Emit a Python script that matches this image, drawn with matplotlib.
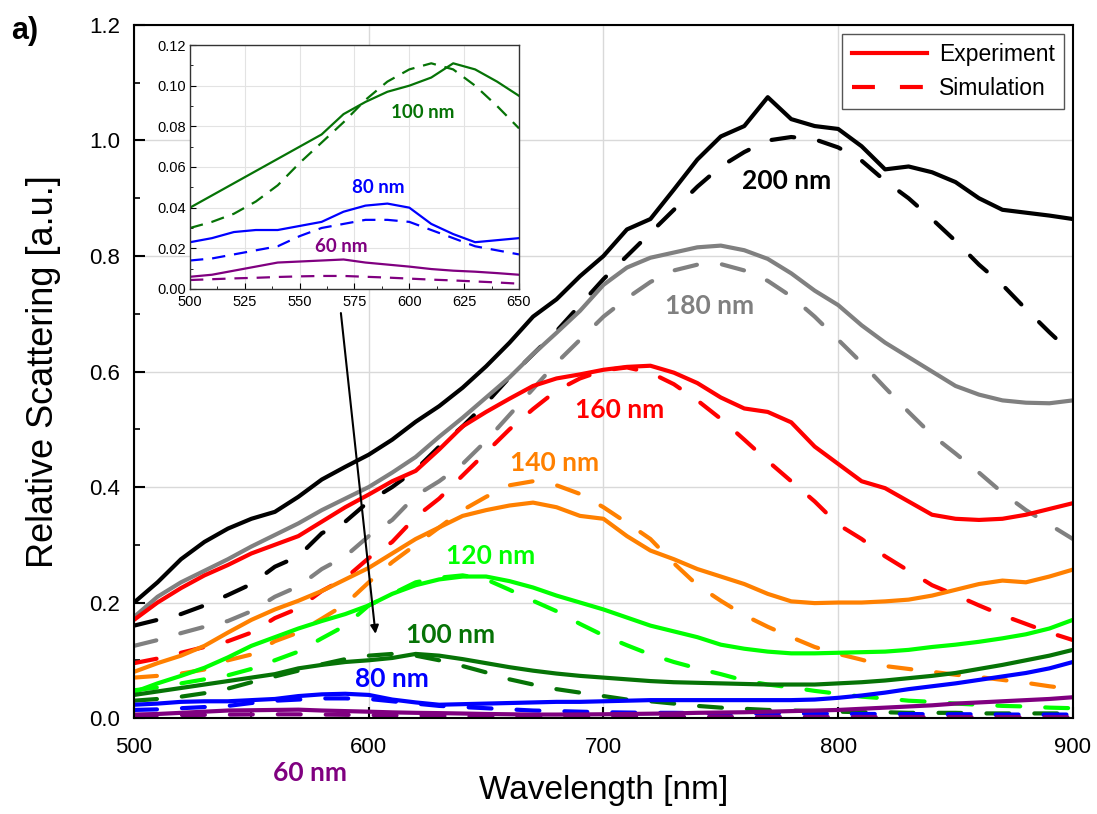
import numpy as np
import matplotlib.pyplot as plt
from matplotlib.ticker import MultipleLocator

# wavelength grid (nm)
wl = np.arange(500, 901, 10)

# experiment
exp_200 = [0.20, 0.235, 0.275, 0.305, 0.328, 0.345, 0.357, 0.383, 0.413, 0.435, 0.456, 0.482, 0.513, 0.54, 0.572,
           0.609, 0.65, 0.695, 0.725, 0.765, 0.80, 0.846, 0.864, 0.915, 0.967, 1.007, 1.025, 1.075, 1.037, 1.025,
           1.02, 0.99, 0.95, 0.955, 0.945, 0.928, 0.90, 0.88, 0.875, 0.87, 0.864]
exp_180 = [0.175, 0.21, 0.235, 0.255, 0.275, 0.297, 0.317, 0.337, 0.36, 0.38, 0.40, 0.425, 0.452, 0.487, 0.52,
           0.555, 0.59, 0.63, 0.667, 0.705, 0.75, 0.78, 0.797, 0.806, 0.815, 0.818, 0.81, 0.795, 0.77, 0.74,
           0.715, 0.68, 0.65, 0.625, 0.60, 0.575, 0.56, 0.55, 0.546, 0.545, 0.55]
exp_160 = [0.17, 0.20, 0.225, 0.247, 0.265, 0.285, 0.30, 0.315, 0.34, 0.365, 0.387, 0.41, 0.428, 0.465, 0.505,
           0.53, 0.553, 0.575, 0.588, 0.595, 0.603, 0.608, 0.61, 0.598, 0.58, 0.555, 0.536, 0.53, 0.512, 0.47,
           0.44, 0.41, 0.398, 0.375, 0.352, 0.345, 0.343, 0.345, 0.352, 0.362, 0.372]
exp_140 = [0.08, 0.095, 0.108, 0.125, 0.148, 0.17, 0.188, 0.203, 0.22, 0.24, 0.26, 0.285, 0.31, 0.33, 0.35,
           0.36, 0.368, 0.373, 0.365, 0.35, 0.345, 0.315, 0.29, 0.275, 0.258, 0.245, 0.232, 0.215, 0.202, 0.199,
           0.20, 0.20, 0.202, 0.205, 0.212, 0.222, 0.232, 0.238, 0.235, 0.245, 0.257]
exp_120 = [0.045, 0.06, 0.073, 0.087, 0.105, 0.125, 0.14, 0.155, 0.168, 0.18, 0.195, 0.215, 0.23, 0.24, 0.245,
           0.245, 0.237, 0.226, 0.212, 0.20, 0.188, 0.174, 0.16, 0.15, 0.14, 0.127, 0.12, 0.115, 0.112, 0.112,
           0.113, 0.114, 0.115, 0.118, 0.123, 0.127, 0.132, 0.138, 0.145, 0.155, 0.17]
exp_100 = [0.04, 0.046, 0.052, 0.058, 0.064, 0.07, 0.076, 0.086, 0.092, 0.097, 0.10, 0.104, 0.111, 0.108, 0.102,
           0.095, 0.088, 0.082, 0.077, 0.073, 0.07, 0.067, 0.064, 0.062, 0.061, 0.06, 0.059, 0.058, 0.058, 0.058,
           0.06, 0.062, 0.065, 0.069, 0.073, 0.078, 0.085, 0.092, 0.10, 0.108, 0.118]
exp_80 = [0.023, 0.025, 0.028, 0.029, 0.029, 0.031, 0.033, 0.038, 0.041, 0.042, 0.04, 0.032, 0.027, 0.023, 0.024,
          0.025, 0.026, 0.027, 0.028, 0.028, 0.029, 0.03, 0.031, 0.031, 0.031, 0.031, 0.031, 0.031, 0.031, 0.032,
          0.035, 0.039, 0.044, 0.05, 0.055, 0.06, 0.066, 0.072, 0.078, 0.086, 0.097]
exp_60 = [0.006, 0.007, 0.009, 0.011, 0.013, 0.0135, 0.014, 0.0145, 0.013, 0.012, 0.011, 0.0098, 0.009, 0.0085,
          0.0078, 0.007, 0.0065, 0.006, 0.006, 0.0062, 0.0065, 0.007, 0.0075, 0.008, 0.009, 0.0095, 0.01, 0.011,
          0.012, 0.013, 0.014, 0.016, 0.018, 0.02, 0.022, 0.025, 0.027, 0.029, 0.031, 0.033, 0.036]

# simulation
sim_200 = [0.16, 0.17, 0.18, 0.195, 0.213, 0.232, 0.262, 0.28, 0.32, 0.34, 0.375, 0.40, 0.43, 0.47, 0.505,
           0.545, 0.59, 0.63, 0.67, 0.715, 0.76, 0.80, 0.84, 0.88, 0.92, 0.955, 0.98, 1.0, 1.006, 1.002,
           0.988, 0.965, 0.93, 0.90, 0.864, 0.826, 0.785, 0.75, 0.708, 0.668, 0.63]
sim_180 = [0.125, 0.135, 0.147, 0.158, 0.168, 0.185, 0.21, 0.228, 0.258, 0.28, 0.315, 0.343, 0.385, 0.41, 0.44,
           0.48, 0.525, 0.57, 0.615, 0.655, 0.695, 0.727, 0.755, 0.775, 0.785, 0.786, 0.775, 0.757, 0.73, 0.695,
           0.655, 0.615, 0.572, 0.53, 0.49, 0.458, 0.425, 0.39, 0.36, 0.335, 0.31]
sim_160 = [0.095, 0.103, 0.113, 0.123, 0.133, 0.148, 0.173, 0.19, 0.22, 0.242, 0.277, 0.305, 0.348, 0.38, 0.42,
           0.46, 0.50, 0.535, 0.567, 0.588, 0.602, 0.607, 0.598, 0.578, 0.55, 0.518, 0.482, 0.445, 0.41, 0.375,
           0.335, 0.31, 0.28, 0.255, 0.23, 0.213, 0.195, 0.178, 0.163, 0.148, 0.135]
sim_140 = [0.07, 0.073, 0.077, 0.084, 0.10, 0.11, 0.133, 0.148, 0.172, 0.197, 0.235, 0.27, 0.30, 0.33, 0.36,
           0.383, 0.403, 0.41, 0.403, 0.388, 0.365, 0.338, 0.31, 0.268, 0.23, 0.203, 0.178, 0.158, 0.14, 0.123,
           0.111, 0.101, 0.09, 0.085, 0.08, 0.075, 0.071, 0.066, 0.061, 0.055, 0.05]
sim_120 = [0.048, 0.053, 0.06, 0.067, 0.074, 0.085, 0.10, 0.115, 0.138, 0.16, 0.195, 0.215, 0.235, 0.243, 0.247,
           0.24, 0.222, 0.203, 0.185, 0.163, 0.143, 0.126, 0.11, 0.097, 0.086, 0.076, 0.065, 0.058, 0.053, 0.047,
           0.042, 0.037, 0.034, 0.03, 0.028, 0.025, 0.023, 0.021, 0.02, 0.018, 0.017]
sim_100 = [0.03, 0.033, 0.037, 0.043, 0.051, 0.062, 0.072, 0.082, 0.093, 0.102, 0.108, 0.111, 0.108, 0.10, 0.09,
           0.079, 0.067, 0.058, 0.05, 0.044, 0.038, 0.032, 0.029, 0.025, 0.021, 0.018, 0.016, 0.014, 0.013, 0.012,
           0.011, 0.01, 0.01, 0.009, 0.009, 0.009, 0.008, 0.008, 0.008, 0.008, 0.008]
sim_80 = [0.014, 0.015, 0.017, 0.019, 0.021, 0.026, 0.03, 0.032, 0.034, 0.034, 0.033, 0.029, 0.025, 0.021, 0.019,
          0.017, 0.015, 0.013, 0.012, 0.011, 0.01, 0.0095, 0.009, 0.009, 0.0085, 0.0085, 0.008, 0.008, 0.008,
          0.0075, 0.0075, 0.007, 0.007, 0.007, 0.0065, 0.0065, 0.0065, 0.006, 0.006, 0.006, 0.006]
sim_60 = [0.0044, 0.0048, 0.0052, 0.0055, 0.0059, 0.0062, 0.0064, 0.0064, 0.006, 0.0056, 0.0051, 0.0046, 0.0042,
          0.0037, 0.0032, 0.0026, 0.0025, 0.0024, 0.0024, 0.0023, 0.0023, 0.0022, 0.0022, 0.0021, 0.0021, 0.002,
          0.002, 0.002, 0.0019, 0.0019, 0.0018, 0.0018, 0.0018, 0.0017, 0.0017, 0.0017, 0.0016, 0.0016, 0.0016,
          0.0015, 0.0015]

sizes = ['200 nm', '180 nm', '160 nm', '140 nm', '120 nm', '100 nm', '80 nm', '60 nm']
colors = ['black', '#808080', '#ff0000', '#ff8000', '#00ff00', '#067306', '#0000ff', '#800080']
exps = [exp_200, exp_180, exp_160, exp_140, exp_120, exp_100, exp_80, exp_60]
sims = [sim_200, sim_180, sim_160, sim_140, sim_120, sim_100, sim_80, sim_60]

# label spots (wavelength, value)
lab_x = [778, 745, 707, 679, 652, 635, 610, 575]
lab_y = [0.93, 0.713, 0.534, 0.442, 0.281, 0.144, 0.068, -0.095]
inset_lab = {'100 nm': (606, 0.087), '80 nm': (586, 0.050), '60 nm': (569, 0.021)}

plt.rcParams['font.family'] = ['Liberation Sans', 'DejaVu Sans']
fig = plt.figure(figsize=(10.97, 8.14), dpi=100)
ax = fig.add_axes([0.1222, 0.1179, 0.8558, 0.8514])

dash = (0, (5.5, 6))
for e, s, c in zip(exps, sims, colors):
    ax.plot(wl, e, color=c, lw=3.0, solid_capstyle='butt')
    ax.plot(wl, s, color=c, lw=3.0, linestyle=dash, dash_capstyle='round')

for t, x, y, c in zip(sizes, lab_x, lab_y, colors):
    ax.text(x, y, t, color=c, fontsize=19, fontweight='bold', family=['Lato', 'DejaVu Sans'],
            ha='center', va='center', clip_on=False)

ax.set_xlim(500, 900)
ax.set_ylim(0, 1.2)
ax.xaxis.set_major_locator(MultipleLocator(100))
ax.xaxis.set_minor_locator(MultipleLocator(50))
ax.yaxis.set_major_locator(MultipleLocator(0.2))
ax.yaxis.set_minor_locator(MultipleLocator(0.1))
ax.yaxis.set_major_formatter(plt.FormatStrFormatter('%.1f'))
ax.tick_params(which='both', direction='in', labelsize=16)
ax.tick_params(which='major', length=8, width=1.5)
ax.tick_params(which='minor', length=4, width=1.2)
ax.tick_params(axis='x', pad=14)
ax.tick_params(axis='y', pad=10)
ax.grid(True, which='major', color='#d9d9d9', lw=1)
for sp in ax.spines.values():
    sp.set_linewidth(1.5)
ax.set_xlabel('Wavelength [nm]', fontsize=24, labelpad=12)
ax.set_ylabel('Relative Scattering [a.u.]', fontsize=26, labelpad=20,
              family=['Liberation Sans Narrow', 'Liberation Sans'])

# legend with red proxies
ax.plot([], [], color='red', lw=3, label='Experiment')
ax.plot([], [], color='red', lw=3, linestyle=dash, label='Simulation')
leg = ax.legend(loc='upper right', fontsize=16.5, fancybox=False, edgecolor='#555555', framealpha=1,
                handlelength=3.3, borderaxespad=0.4, labelspacing=0.45, handletextpad=0.5)
leg.get_frame().set_linewidth(1)

fig.text(0.010, 0.962, 'a)', fontsize=22, fontweight='bold', ha='left', va='center')

# arrow from inset to main curve
ax.annotate('', xy=(603, 0.141), xytext=(588, 0.706),
            arrowprops=dict(arrowstyle='-|>', color='black', lw=1.5, mutation_scale=12))

# inset
ins = fig.add_axes([0.1732, 0.645, 0.2999, 0.2997])
for e, s, c in zip(exps[5:], sims[5:], colors[5:]):
    ins.plot(wl[:16], e[:16], color=c, lw=1.6)
    ins.plot(wl[:16], s[:16], color=c, lw=1.6, linestyle=(0, (6, 4)))
for t, (x, y) in inset_lab.items():
    ins.text(x, y, t, color=colors[sizes.index(t)], fontsize=13.5, fontweight='bold',
             family=['Lato', 'DejaVu Sans'], ha='center', va='center')
ins.set_xlim(500, 650)
ins.set_ylim(0, 0.12)
ins.xaxis.set_major_locator(MultipleLocator(25))
ins.xaxis.set_minor_locator(MultipleLocator(12.5))
ins.yaxis.set_major_locator(MultipleLocator(0.02))
ins.yaxis.set_minor_locator(MultipleLocator(0.01))
ins.yaxis.set_major_formatter(plt.FormatStrFormatter('%.2f'))
ins.tick_params(which='both', direction='in', labelsize=10.5)
ins.tick_params(axis='x', pad=4)
ins.tick_params(axis='y', pad=3)
ins.tick_params(which='major', length=4)
ins.tick_params(which='minor', length=2)
ins.grid(True, which='major', color='#e3e3e3', lw=0.8)
for sp in ins.spines.values():
    sp.set_linewidth(1)
    sp.set_color('#333333')

fig.savefig('out.png', dpi=100)
